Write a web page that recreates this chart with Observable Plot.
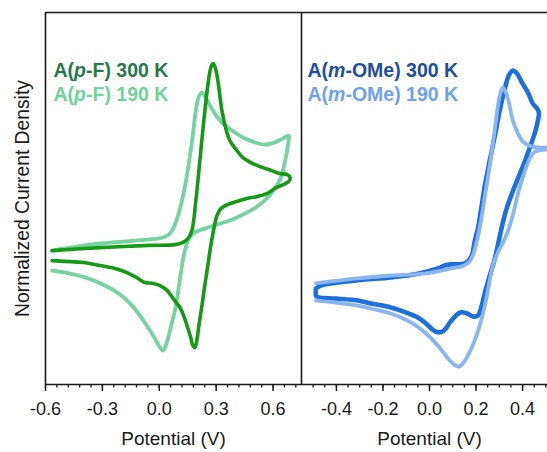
<!DOCTYPE html>
<html>
<head>
<meta charset="utf-8">
<script src="https://cdn.jsdelivr.net/npm/d3@7"></script>
<script src="https://cdn.jsdelivr.net/npm/@observablehq/plot@0.6"></script>
<style>
  html, body { margin: 0; padding: 0; background: #fff; }
  #wrap { position: relative; width: 547px; height: 452px; overflow: hidden; background: #fff; }
  #wrap svg { position: absolute; top: 0; }
</style>
</head>
<body>
<div id="wrap"></div>
<script>
// ---------- data (potential in V, normalized current in arbitrary units) ----------
const pF300V = [-0.565,-0.312,-0.049,0.083,0.125,0.151,0.172,0.193,0.214,0.235,0.256,0.272,0.283,0.293,0.309,0.330,0.351,0.372,0.409,0.441,0.493,0.546,0.593,0.635,0.672,0.690,0.683,0.656,0.609,0.567,0.514,0.461,0.409,0.362,0.325,0.304,0.288,0.272,0.256,0.240,0.225,0.209,0.198,0.188,0.177,0.167,0.151,0.130,0.109,0.077,0.041,0.004,-0.038,-0.075,-0.112,-0.170,-0.233,-0.312,-0.401,-0.496,-0.565];
const pF300I = [36.0,36.8,37.4,37.6,38.2,39.2,41.4,49.5,60.2,71.0,80.4,85.2,86.3,85.5,81.7,73.7,68.8,65.6,62.9,61.0,59.4,58.3,57.5,56.7,56.5,55.6,54.6,53.8,52.7,51.3,50.5,50.0,49.2,48.4,47.3,45.4,41.9,37.4,32.0,26.6,21.2,15.9,11.8,9.9,10.5,12.4,15.1,18.3,20.7,22.8,25.3,26.6,27.2,27.4,28.5,30.1,31.2,32.0,32.8,33.1,33.3];

const pF190V = [-0.565,-0.312,-0.049,0.020,0.057,0.078,0.099,0.120,0.141,0.162,0.178,0.193,0.209,0.225,0.241,0.262,0.293,0.330,0.383,0.441,0.504,0.557,0.609,0.651,0.683,0.678,0.662,0.641,0.609,0.567,0.514,0.461,0.409,0.356,0.304,0.240,0.188,0.156,0.135,0.120,0.104,0.088,0.067,0.046,0.030,0.020,0.004,-0.017,-0.049,-0.091,-0.143,-0.207,-0.286,-0.391,-0.496,-0.565];
const pF190I = [36.0,37.9,39.0,39.5,40.6,42.5,45.4,49.5,54.8,61.6,67.5,73.7,77.4,78.5,77.4,75.5,72.8,70.4,68.3,66.4,65.1,64.5,65.1,66.1,66.9,64.2,59.7,55.6,52.7,50.0,47.8,46.2,44.9,43.8,43.0,41.9,40.9,39.2,36.0,32.0,26.6,21.2,16.7,12.4,9.9,9.1,9.9,11.8,14.5,17.7,21.2,24.2,26.6,28.8,30.1,30.6];

const mOMe300V = [-0.488,-0.467,-0.308,-0.166,-0.050,0.036,0.066,0.092,0.122,0.148,0.165,0.182,0.195,0.208,0.221,0.238,0.259,0.281,0.302,0.324,0.341,0.358,0.376,0.397,0.423,0.444,0.462,0.470,0.466,0.453,0.431,0.406,0.380,0.354,0.333,0.315,0.298,0.281,0.259,0.238,0.221,0.208,0.186,0.161,0.135,0.113,0.088,0.062,0.040,0.018,-0.015,-0.050,-0.102,-0.166,-0.252,-0.308,-0.402,-0.475,-0.487,-0.489,-0.488];
const mOMe300I = [25.8,26.6,28.0,28.8,29.8,31.2,32.0,32.3,32.3,32.5,33.1,34.7,38.7,41.9,46.8,53.5,60.2,66.9,73.7,79.6,83.1,84.4,83.6,81.2,78.5,75.5,74.2,73.1,71.0,67.7,63.7,59.4,55.4,51.3,47.6,43.5,38.7,33.9,29.3,24.7,20.4,18.5,18.3,19.1,19.4,18.5,16.7,14.5,14.0,14.5,16.4,18.0,19.4,20.7,21.8,22.6,23.1,23.4,23.8,24.8,25.8];

const mOMe190V = [-0.488,-0.308,-0.166,-0.024,0.092,0.148,0.173,0.186,0.199,0.212,0.225,0.242,0.259,0.277,0.290,0.302,0.315,0.328,0.341,0.358,0.380,0.401,0.436,0.479,0.509,0.547,0.509,0.470,0.449,0.427,0.406,0.384,0.363,0.341,0.320,0.294,0.272,0.255,0.238,0.216,0.191,0.165,0.143,0.126,0.105,0.079,0.036,-0.015,-0.080,-0.166,-0.252,-0.308,-0.402,-0.488];
const mOMe190I = [27.2,28.5,29.3,29.8,31.2,32.0,33.1,34.7,37.4,40.9,45.4,52.2,58.9,66.9,73.1,77.7,79.8,78.5,75.8,71.0,67.5,65.3,64.0,63.7,63.7,63.4,63.2,62.9,62.4,60.2,56.7,52.2,46.8,41.9,38.7,35.5,32.0,26.6,21.2,15.9,11.3,7.8,5.6,4.8,5.4,7.0,10.5,13.7,16.7,19.1,20.4,21.2,22.0,22.6];

const leftMajorTicks = [-0.6, -0.3, 0.0, 0.3, 0.6];
const rightMajorTicks = [-0.4, -0.2, 0.0, 0.2, 0.4];
const leftLegend = [["A(", "p", "-F) 300 K"], ["A(", "p", "-F) 190 K"]];
const rightLegend = [["A(", "m", "-OMe) 300 K"], ["A(", "m", "-OMe) 190 K"]];
const xLabel = "Potential (V)";
const yLabel = "Normalized Current Density";

// ---------- styling ----------
const FONT = "Arial, 'Liberation Sans', Helvetica, sans-serif";
const AX = "#1a1a1a";
const C = {
  pF300: "#149a14", pF190: "#74d3a0",
  pF300Text: "#257a4c", pF190Text: "#70d29c",
  m300: "#1d6fdc", m190: "#8ab6ef",
  m300Text: "#1e4f9c", m190Text: "#6ea2ec"
};
const fmt = d => (Math.abs(d) < 1e-9 ? 0 : d).toFixed(1);
const tbl = (V, I) => V.map((v, i) => ({V: v, I: I[i]}));
const leftMinor = d3.range(-10, 13).map(i => +(i * 0.06).toFixed(2));
const rightMinor = d3.range(-10, 11).map(i => +(i * 0.05).toFixed(2));

function common(domain, majors, minors) {
  return [
    Plot.ruleY([100], {stroke: AX, strokeWidth: 1.6}),
    Plot.ruleY([0], {stroke: AX, strokeWidth: 1.6}),
    Plot.ruleX([domain[0]], {stroke: AX, strokeWidth: 1.6}),
    Plot.axisX({ticks: minors, tickSize: 3.5, fill: "none", stroke: AX, strokeWidth: 1.3, label: null}),
    Plot.axisX({ticks: majors, tickSize: 7, tickPadding: 11, tickFormat: fmt, fontSize: 18, stroke: AX, strokeWidth: 1.5, fill: AX, label: null}),
    Plot.text([xLabel], {text: d => d, frameAnchor: "bottom", dy: 60, fontSize: 19, fill: AX})
  ];
}
function legendMarks(parts, colors) {
  return parts.map((p, i) => Plot.text([p.join("")], {
    text: d => d, frameAnchor: "top-left", textAnchor: "start", lineAnchor: "top",
    dx: 0, dy: 51 + i * 23.3, fontSize: 19.5, fontWeight: "bold", fill: colors[i]
  }));
}
const lineOpts = (stroke, w) => ({x: "V", y: "I", stroke, strokeWidth: w, curve: "catmull-rom",
  strokeLinejoin: "round", strokeLinecap: "round", clip: true});

const leftPlot = Plot.plot({
  width: 302, height: 452, marginLeft: 45, marginRight: 1, marginTop: 12, marginBottom: 68,
  x: {domain: [-0.6, 0.75], label: null},
  y: {domain: [0, 100], axis: null},
  style: {fontFamily: FONT, background: "transparent", overflow: "visible", color: AX},
  marks: [
    Plot.line(tbl(pF190V, pF190I), lineOpts(C.pF190, 3.8)),
    Plot.line(tbl(pF300V, pF300I), lineOpts(C.pF300, 3.6)),
    ...common([-0.6, 0.75], leftMajorTicks, leftMinor),
    Plot.text([yLabel], {text: d => d, frameAnchor: "left", textAnchor: "middle", lineAnchor: "middle", dx: -23, rotate: -90, fontSize: 19.3, fill: AX}),
    ...legendMarks(leftLegend, [C.pF300Text, C.pF190Text])
  ]
});

const rightPlot = Plot.plot({
  width: 267, height: 452, marginLeft: 11, marginRight: 0, marginTop: 12, marginBottom: 68,
  x: {domain: [-0.55, 0.55], label: null},
  y: {domain: [0, 100], axis: null},
  style: {fontFamily: FONT, background: "transparent", overflow: "visible", color: AX},
  marks: [
    Plot.line(tbl(mOMe300V, mOMe300I), lineOpts(C.m300, 4.6)),
    Plot.line(tbl(mOMe190V, mOMe190I), lineOpts(C.m190, 3.8)),
    ...common([-0.55, 0.55], rightMajorTicks, rightMinor),
    ...legendMarks(rightLegend, [C.m300Text, C.m190Text])
  ]
});

// legend: italic letter via tspans, and small horizontal inset (frame-relative)
function fixLegend(svg, parts, dxPx) {
  const labels = parts.map(p => p.join(""));
  svg.querySelectorAll("text").forEach(t => {
    const k = labels.indexOf(t.textContent);
    if (k < 0) return;
    const p = parts[k];
    t.textContent = "";
    const ns = "http://www.w3.org/2000/svg";
    p.forEach((s, j) => {
      const ts = document.createElementNS(ns, "tspan");
      ts.textContent = s;
      if (j === 1) ts.setAttribute("font-style", "italic");
      t.appendChild(ts);
    });
    t.setAttribute("x", +(t.getAttribute("x") || 0) + dxPx);
  });
}
fixLegend(leftPlot, leftLegend, 8);
fixLegend(rightPlot, rightLegend, 6);

leftPlot.style.left = "0px";
rightPlot.style.left = "290px";
const wrap = document.getElementById("wrap");
wrap.appendChild(leftPlot);
wrap.appendChild(rightPlot);
</script>
</body>
</html>
